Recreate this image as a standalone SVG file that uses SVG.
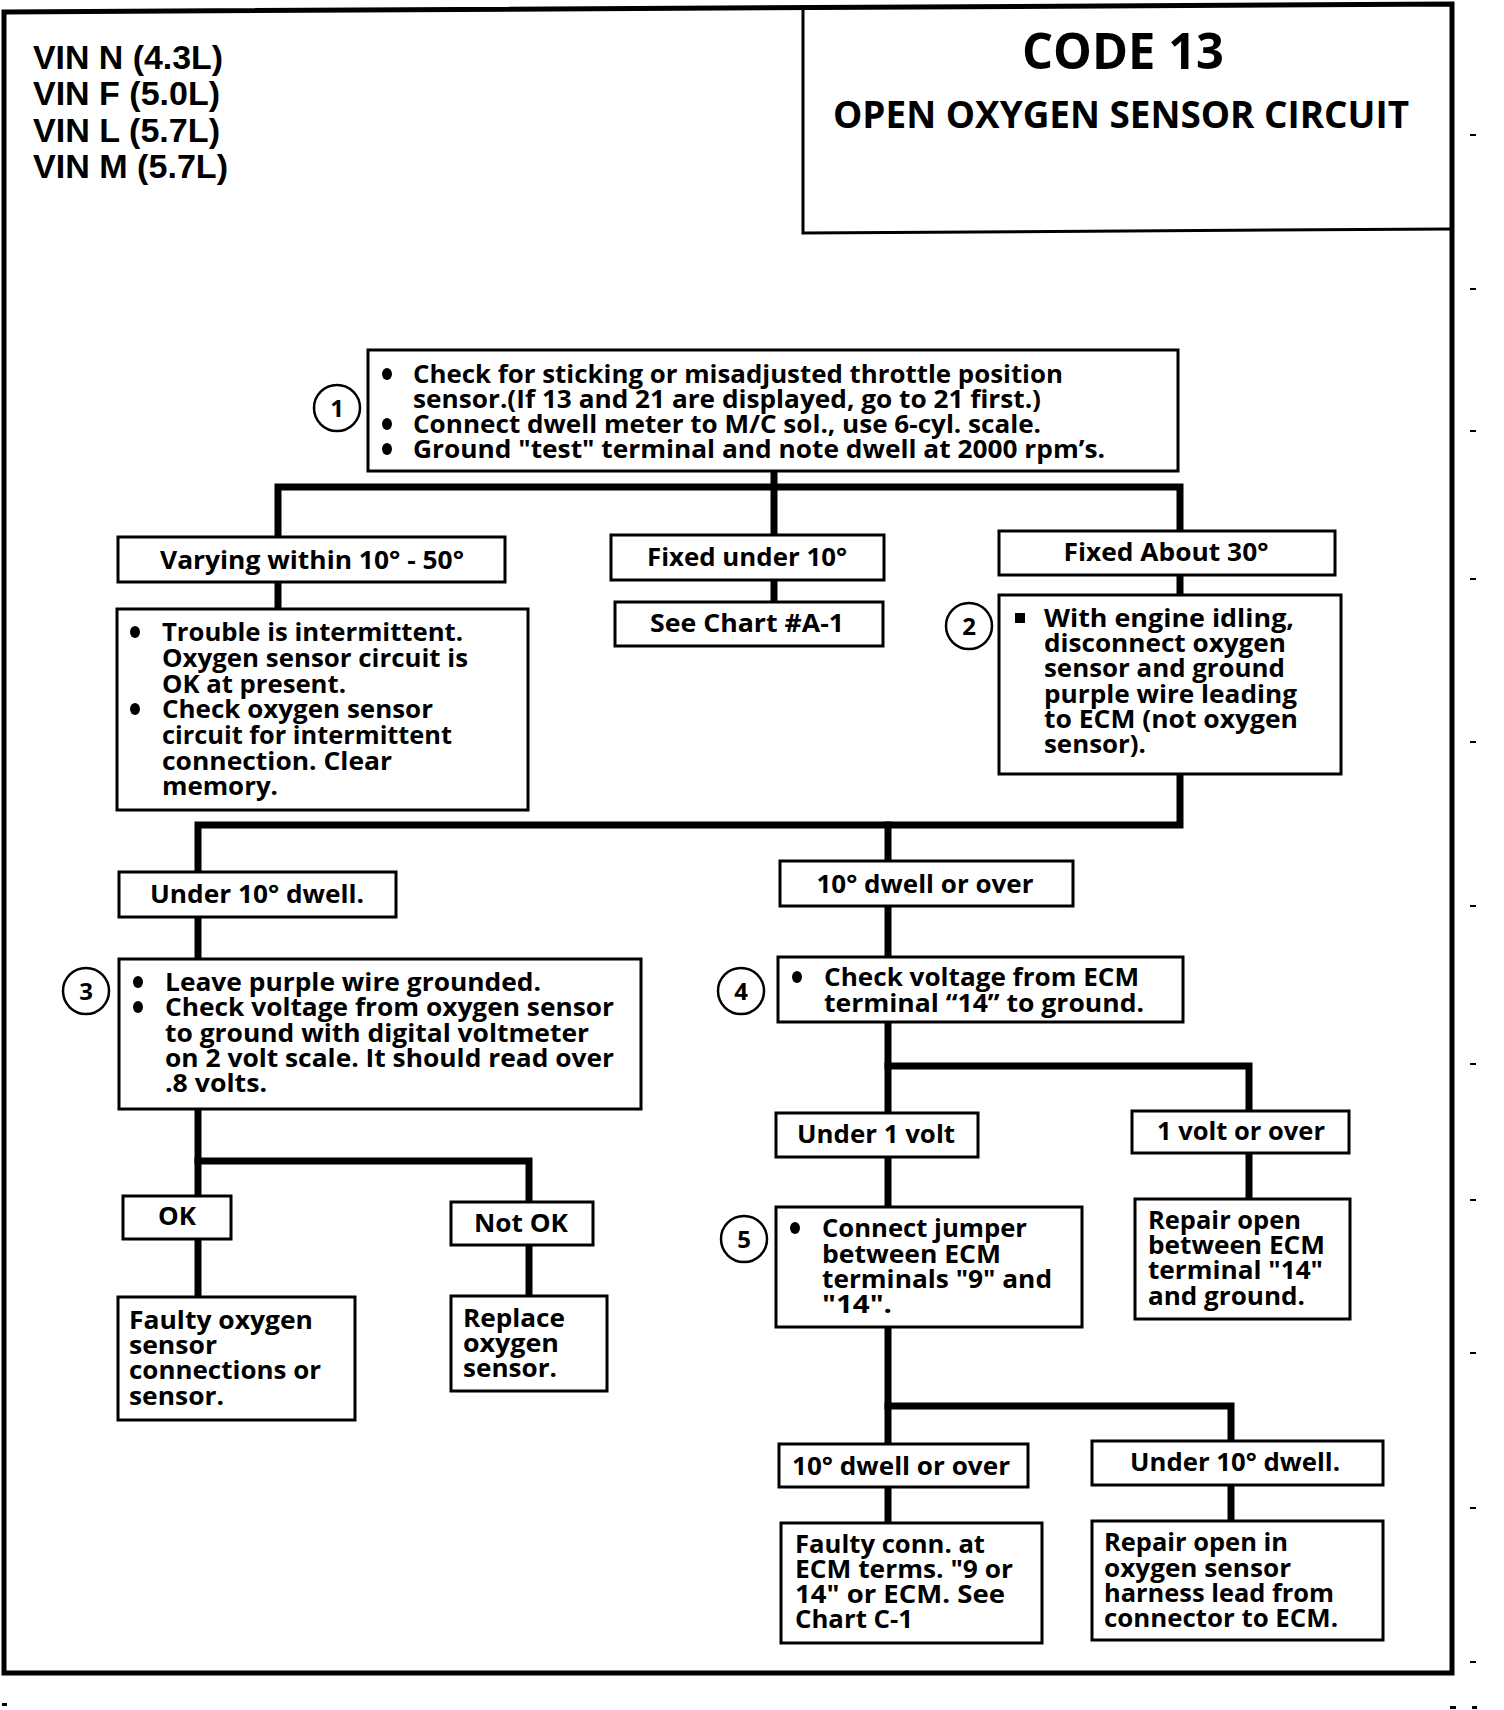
<svg xmlns="http://www.w3.org/2000/svg" width="1504" height="1710" viewBox="0 0 1504 1710">
<style>
.frame{fill:none;stroke:#000;stroke-width:5}
.box{fill:#fff;stroke:#000;stroke-width:3}
.conn{fill:none;stroke:#000;stroke-width:7;stroke-linecap:square}
.t{font-family:"Open Sans","Liberation Sans",sans-serif;font-weight:700;font-size:25px;fill:#000}
.c{text-anchor:middle}
.num{font-family:"Open Sans","Liberation Sans",sans-serif;font-weight:700;font-size:24px;text-anchor:middle;fill:#000}
.ring{fill:#fff;stroke:#000;stroke-width:2.5}
.vin{font-family:"Liberation Sans",Arial,sans-serif;font-weight:700;font-size:34px;fill:#000}
.title{font-family:"Open Sans","Liberation Sans",sans-serif;font-weight:700;fill:#000;text-anchor:middle}
.tick{fill:#000}
</style>

<!-- outer frame -->
<path class="frame" d="M4 12 L1452 4 L1452 1673 L4 1673 Z"/>

<!-- scan tick marks -->
<g id="ticks">
<rect class="tick" x="1470" y="134" width="6" height="2"/>
<rect class="tick" x="1470" y="288" width="6" height="2"/>
<rect class="tick" x="1470" y="430" width="6" height="2"/>
<rect class="tick" x="1470" y="578" width="6" height="2"/>
<rect class="tick" x="1470" y="741" width="6" height="2"/>
<rect class="tick" x="1470" y="905" width="6" height="2"/>
<rect class="tick" x="1470" y="1063" width="6" height="2"/>
<rect class="tick" x="1470" y="1199" width="6" height="2"/>
<rect class="tick" x="1470" y="1352" width="6" height="2"/>
<rect class="tick" x="1470" y="1507" width="6" height="2"/>
<rect class="tick" x="1470" y="1661" width="6" height="2"/>
<rect class="tick" x="1450" y="1706" width="6" height="3"/>
<rect class="tick" x="1472" y="1706" width="5" height="3"/>
<rect class="tick" x="2" y="1703" width="5" height="3"/>
</g>

<!-- header -->
<g id="vin">
<text class="vin" x="33" y="69" textLength="190" lengthAdjust="spacingAndGlyphs">VIN N (4.3L)</text>
<text class="vin" x="33" y="105" textLength="187" lengthAdjust="spacingAndGlyphs">VIN F (5.0L)</text>
<text class="vin" x="33" y="142" textLength="187" lengthAdjust="spacingAndGlyphs">VIN L (5.7L)</text>
<text class="vin" x="33" y="178" textLength="195" lengthAdjust="spacingAndGlyphs">VIN M (5.7L)</text>
</g>
<g id="code">
<path fill="none" stroke="#000" stroke-width="3" d="M803 8 L803 233 L1452 229"/>
<text class="title" x="1123" y="69" font-size="50" textLength="202" lengthAdjust="spacingAndGlyphs">CODE 13</text>
<text class="title" x="1121" y="128" font-size="38" textLength="576" lengthAdjust="spacingAndGlyphs">OPEN OXYGEN SENSOR CIRCUIT</text>
</g>

<!-- connectors -->
<g id="connectors">
<path class="conn" d="M774 471 V535"/>
<path class="conn" d="M278 537 V487 H1180 V531"/>
<path class="conn" d="M278 582 V609"/>
<path class="conn" d="M774 580 V602"/>
<path class="conn" d="M1180 575 V595"/>
<path class="conn" d="M1180 774 V825 H198 V872"/>
<path class="conn" d="M888 825 V861"/>
<path class="conn" d="M198 917 V959"/>
<path class="conn" d="M198 1109 V1196"/>
<path class="conn" d="M198 1161 H529 V1202"/>
<path class="conn" d="M198 1239 V1297"/>
<path class="conn" d="M529 1245 V1296"/>
<path class="conn" d="M888 906 V957"/>
<path class="conn" d="M888 1022 V1113"/>
<path class="conn" d="M888 1066 H1249 V1111"/>
<path class="conn" d="M1249 1153 V1199"/>
<path class="conn" d="M888 1157 V1207"/>
<path class="conn" d="M888 1327 V1444"/>
<path class="conn" d="M888 1406 H1231 V1441"/>
<path class="conn" d="M888 1487 V1523"/>
<path class="conn" d="M1231 1485 V1521"/>
</g>

<!-- step 1 -->
<g id="step1">
<circle class="ring" cx="337" cy="408" r="23"/>
<text class="num" x="337" y="417">1</text>
<rect class="box" x="368" y="350" width="810" height="121"/>
<ellipse cx="387" cy="374" rx="5" ry="6"/>
<ellipse cx="387" cy="424" rx="5" ry="6"/>
<ellipse cx="387" cy="449" rx="5" ry="6"/>
<text class="t" x="413" y="383" textLength="650" lengthAdjust="spacingAndGlyphs">Check for sticking or misadjusted throttle position</text>
<text class="t" x="413" y="408" textLength="628" lengthAdjust="spacingAndGlyphs">sensor.(If 13 and 21 are displayed, go to 21 first.)</text>
<text class="t" x="413" y="433" textLength="628" lengthAdjust="spacingAndGlyphs">Connect dwell meter to M/C sol., use 6-cyl. scale.</text>
<text class="t" x="413" y="458" textLength="692" lengthAdjust="spacingAndGlyphs">Ground "test" terminal and note dwell at 2000 rpm’s.</text>
</g>

<g id="varying">
<rect class="box" x="118" y="537" width="387" height="45"/>
<text class="t c" x="312" y="569" textLength="304" lengthAdjust="spacingAndGlyphs">Varying within 10° - 50°</text>
</g>
<g id="intermittent">
<rect class="box" x="117" y="609" width="411" height="201"/>
<ellipse cx="135" cy="632" rx="5" ry="6"/>
<ellipse cx="135" cy="709" rx="5" ry="6"/>
<text class="t" x="162" y="641" textLength="301" lengthAdjust="spacingAndGlyphs">Trouble is intermittent.</text>
<text class="t" x="162" y="667" textLength="306" lengthAdjust="spacingAndGlyphs">Oxygen sensor circuit is</text>
<text class="t" x="162" y="693" textLength="184" lengthAdjust="spacingAndGlyphs">OK at present.</text>
<text class="t" x="162" y="718" textLength="271" lengthAdjust="spacingAndGlyphs">Check oxygen sensor</text>
<text class="t" x="162" y="744" textLength="290" lengthAdjust="spacingAndGlyphs">circuit for intermittent</text>
<text class="t" x="162" y="770" textLength="230" lengthAdjust="spacingAndGlyphs">connection.  Clear</text>
<text class="t" x="162" y="795" textLength="116" lengthAdjust="spacingAndGlyphs">memory.</text>
</g>

<g id="fixedunder">
<rect class="box" x="611" y="535" width="273" height="45"/>
<text class="t c" x="747" y="566" textLength="200" lengthAdjust="spacingAndGlyphs">Fixed under 10°</text>
</g>
<g id="chartA1">
<rect class="box" x="615" y="602" width="268" height="44"/>
<text class="t c" x="747" y="632" textLength="194" lengthAdjust="spacingAndGlyphs">See Chart #A-1</text>
</g>

<g id="fixedabout">
<rect class="box" x="999" y="531" width="336" height="44"/>
<text class="t c" x="1166" y="561" textLength="205" lengthAdjust="spacingAndGlyphs">Fixed About 30°</text>
</g>
<g id="step2">
<circle class="ring" cx="969" cy="626" r="23"/>
<text class="num" x="969" y="635">2</text>
<rect class="box" x="999" y="595" width="342" height="179"/>
<rect x="1015" y="613" width="10" height="10"/>
<text class="t" x="1044" y="627" textLength="250" lengthAdjust="spacingAndGlyphs">With engine idling,</text>
<text class="t" x="1044" y="652" textLength="242" lengthAdjust="spacingAndGlyphs">disconnect oxygen</text>
<text class="t" x="1044" y="677" textLength="241" lengthAdjust="spacingAndGlyphs">sensor and ground</text>
<text class="t" x="1044" y="703" textLength="253" lengthAdjust="spacingAndGlyphs">purple wire leading</text>
<text class="t" x="1044" y="728" textLength="254" lengthAdjust="spacingAndGlyphs">to ECM (not oxygen</text>
<text class="t" x="1044" y="753" textLength="102" lengthAdjust="spacingAndGlyphs">sensor).</text>
</g>

<g id="under10a">
<rect class="box" x="119" y="872" width="277" height="45"/>
<text class="t c" x="257" y="903" textLength="214" lengthAdjust="spacingAndGlyphs">Under 10° dwell.</text>
</g>
<g id="over10a">
<rect class="box" x="780" y="861" width="293" height="45"/>
<text class="t c" x="925" y="893" textLength="217" lengthAdjust="spacingAndGlyphs">10° dwell or over</text>
</g>

<g id="step3">
<circle class="ring" cx="86" cy="991" r="23"/>
<text class="num" x="86" y="1000">3</text>
<rect class="box" x="119" y="959" width="522" height="150"/>
<ellipse cx="138" cy="982" rx="5" ry="6"/>
<ellipse cx="138" cy="1007" rx="5" ry="6"/>
<text class="t" x="165" y="991" textLength="376" lengthAdjust="spacingAndGlyphs">Leave purple wire grounded.</text>
<text class="t" x="165" y="1016" textLength="449" lengthAdjust="spacingAndGlyphs">Check voltage from oxygen sensor</text>
<text class="t" x="165" y="1042" textLength="424" lengthAdjust="spacingAndGlyphs">to ground with digital voltmeter</text>
<text class="t" x="165" y="1067" textLength="449" lengthAdjust="spacingAndGlyphs">on 2 volt scale.  It should read over</text>
<text class="t" x="165" y="1092" textLength="102" lengthAdjust="spacingAndGlyphs">.8 volts.</text>
</g>

<g id="ok">
<rect class="box" x="123" y="1196" width="108" height="43"/>
<text class="t c" x="177" y="1225" textLength="38" lengthAdjust="spacingAndGlyphs">OK</text>
</g>
<g id="faultysensor">
<rect class="box" x="118" y="1297" width="237" height="123"/>
<text class="t" x="129" y="1329" textLength="184" lengthAdjust="spacingAndGlyphs">Faulty oxygen</text>
<text class="t" x="129" y="1354" textLength="88" lengthAdjust="spacingAndGlyphs">sensor</text>
<text class="t" x="129" y="1379" textLength="192" lengthAdjust="spacingAndGlyphs">connections or</text>
<text class="t" x="129" y="1405" textLength="95" lengthAdjust="spacingAndGlyphs">sensor.</text>
</g>
<g id="notok">
<rect class="box" x="451" y="1202" width="142" height="43"/>
<text class="t c" x="521" y="1232" textLength="94" lengthAdjust="spacingAndGlyphs">Not OK</text>
</g>
<g id="replace">
<rect class="box" x="451" y="1296" width="156" height="95"/>
<text class="t" x="463" y="1327" textLength="102" lengthAdjust="spacingAndGlyphs">Replace</text>
<text class="t" x="463" y="1352" textLength="96" lengthAdjust="spacingAndGlyphs">oxygen</text>
<text class="t" x="463" y="1377" textLength="94" lengthAdjust="spacingAndGlyphs">sensor.</text>
</g>

<g id="step4">
<circle class="ring" cx="741" cy="991" r="23"/>
<text class="num" x="741" y="1000">4</text>
<rect class="box" x="778" y="957" width="405" height="65"/>
<ellipse cx="797" cy="977" rx="5" ry="6"/>
<text class="t" x="824" y="986" textLength="315" lengthAdjust="spacingAndGlyphs">Check voltage from ECM</text>
<text class="t" x="824" y="1012" textLength="320" lengthAdjust="spacingAndGlyphs">terminal “14” to ground.</text>
</g>

<g id="under1">
<rect class="box" x="776" y="1113" width="202" height="44"/>
<text class="t c" x="876" y="1143" textLength="158" lengthAdjust="spacingAndGlyphs">Under 1 volt</text>
</g>
<g id="over1">
<rect class="box" x="1132" y="1111" width="217" height="42"/>
<text class="t c" x="1241" y="1140" textLength="168" lengthAdjust="spacingAndGlyphs">1 volt or over</text>
</g>
<g id="repair14">
<rect class="box" x="1135" y="1199" width="215" height="120"/>
<text class="t" x="1148" y="1229" textLength="153" lengthAdjust="spacingAndGlyphs">Repair open</text>
<text class="t" x="1148" y="1254" textLength="177" lengthAdjust="spacingAndGlyphs">between ECM</text>
<text class="t" x="1148" y="1279" textLength="175" lengthAdjust="spacingAndGlyphs">terminal "14"</text>
<text class="t" x="1148" y="1305" textLength="157" lengthAdjust="spacingAndGlyphs">and ground.</text>
</g>

<g id="step5">
<circle class="ring" cx="744" cy="1239" r="23"/>
<text class="num" x="744" y="1248">5</text>
<rect class="box" x="776" y="1207" width="306" height="120"/>
<ellipse cx="795" cy="1228" rx="5" ry="6"/>
<text class="t" x="822" y="1237" textLength="205" lengthAdjust="spacingAndGlyphs">Connect jumper</text>
<text class="t" x="822" y="1263" textLength="179" lengthAdjust="spacingAndGlyphs">between ECM</text>
<text class="t" x="822" y="1288" textLength="230" lengthAdjust="spacingAndGlyphs">terminals "9" and</text>
<text class="t" x="822" y="1313" textLength="70" lengthAdjust="spacingAndGlyphs">"14".</text>
</g>

<g id="over10b">
<rect class="box" x="779" y="1444" width="249" height="43"/>
<text class="t c" x="901" y="1475" textLength="218" lengthAdjust="spacingAndGlyphs">10° dwell or over</text>
</g>
<g id="under10b">
<rect class="box" x="1092" y="1441" width="291" height="44"/>
<text class="t c" x="1235" y="1471" textLength="210" lengthAdjust="spacingAndGlyphs">Under 10° dwell.</text>
</g>
<g id="faultyconn">
<rect class="box" x="781" y="1523" width="261" height="120"/>
<text class="t" x="795" y="1553" textLength="190" lengthAdjust="spacingAndGlyphs">Faulty conn. at</text>
<text class="t" x="795" y="1578" textLength="218" lengthAdjust="spacingAndGlyphs">ECM terms. "9 or</text>
<text class="t" x="795" y="1603" textLength="210" lengthAdjust="spacingAndGlyphs">14" or ECM.  See</text>
<text class="t" x="795" y="1628" textLength="118" lengthAdjust="spacingAndGlyphs">Chart C-1</text>
</g>
<g id="repairharness">
<rect class="box" x="1092" y="1521" width="291" height="119"/>
<text class="t" x="1104" y="1551" textLength="184" lengthAdjust="spacingAndGlyphs">Repair open in</text>
<text class="t" x="1104" y="1577" textLength="187" lengthAdjust="spacingAndGlyphs">oxygen sensor</text>
<text class="t" x="1104" y="1602" textLength="230" lengthAdjust="spacingAndGlyphs">harness lead from</text>
<text class="t" x="1104" y="1627" textLength="234" lengthAdjust="spacingAndGlyphs">connector to ECM.</text>
</g>
</svg>
